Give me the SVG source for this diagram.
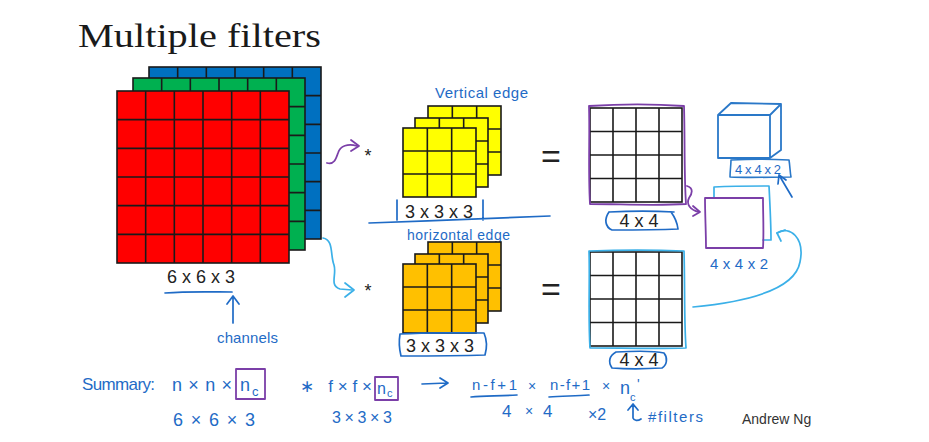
<svg xmlns="http://www.w3.org/2000/svg" xmlns:xlink="http://www.w3.org/1999/xlink" width="929" height="442" viewBox="0 0 929 442">
<style>
.grid{stroke:#1a1a1a;stroke-width:1.6}
.lbl{font-family:"Liberation Sans",Arial,sans-serif;font-size:18px;fill:#222}
.eq{font-family:"Liberation Sans",Arial,sans-serif;font-size:34px;fill:#222}
.hw{font-family:"Liberation Sans",Arial,sans-serif;fill:#1f6bc6}
.ink{fill:none;stroke:#1f6bc6;stroke-width:1.7;stroke-linecap:round;stroke-linejoin:round}
.lb{fill:none;stroke:#3bb0e8;stroke-width:1.7;stroke-linecap:round;stroke-linejoin:round}
.pu{fill:none;stroke:#7b3fa8;stroke-width:1.8;stroke-linecap:round;stroke-linejoin:round}
</style>
<defs>
<symbol id="g6" overflow="visible">
<rect class="grid" x="0" y="0" width="172" height="172"/>
<path class="grid" fill="none" d="M28.67,0V172M57.33,0V172M86,0V172M114.67,0V172M143.33,0V172M0,28.67H172M0,57.33H172M0,86H172M0,114.67H172M0,143.33H172"/>
</symbol>
<symbol id="g3" overflow="visible">
<rect class="grid" x="0" y="0" width="73" height="69"/>
<path class="grid" fill="none" d="M24.33,0V69M48.67,0V69M0,23H73M0,46H73"/>
</symbol>
<symbol id="g4" overflow="visible">
<rect class="grid" x="0" y="0" width="92" height="94" fill="none"/>
<path class="grid" fill="none" d="M23,0V94M46,0V94M69,0V94M0,23.5H92M0,47H92M0,70.5H92"/>
</symbol>
</defs>
<rect width="929" height="442" fill="#fff"/>
<text x="78" y="47" font-family="'Liberation Serif','Times New Roman',serif" font-size="34" fill="#1a1a1a" textLength="243" lengthAdjust="spacingAndGlyphs">Multiple filters</text>

<g id="input-volume">
<use xlink:href="#g6" x="149" y="67" fill="#0070c0"/>
<use xlink:href="#g6" x="133" y="78" fill="#00b050"/>
<use xlink:href="#g6" x="117" y="91" fill="#ff0000"/>
<text class="lbl" x="201" y="283" text-anchor="middle">6 x 6 x 3</text>
<path class="ink" d="M165,293 C190,291 215,292 232,292"/>
<text class="hw" x="217" y="343" font-size="15" textLength="61">channels</text>
</g>

<g id="filter-vertical">
<text class="hw" x="435" y="98" font-size="15" textLength="93">Vertical edge</text>
<text class="lbl" x="368" y="162" text-anchor="middle">*</text>
<use xlink:href="#g3" x="428" y="106" fill="#ffff00"/>
<use xlink:href="#g3" x="415" y="118" fill="#ffff00"/>
<use xlink:href="#g3" x="403" y="128" fill="#ffff00"/>
<text class="lbl" x="439" y="218" text-anchor="middle">3 x 3 x 3</text>
<path class="ink" d="M397,200 L397,220 M483,200 L483,220 M369,223 C430,221 500,218 550,216"/>
<text class="eq" x="551" y="168" text-anchor="middle">=</text>
</g>

<g id="filter-horizontal">
<text class="hw" x="407" y="240" font-size="14" textLength="103">horizontal edge</text>
<text class="lbl" x="368" y="297" text-anchor="middle">*</text>
<use xlink:href="#g3" x="428" y="242" fill="#ffc000"/>
<use xlink:href="#g3" x="415" y="254" fill="#ffc000"/>
<use xlink:href="#g3" x="403" y="264" fill="#ffc000"/>
<text class="lbl" x="440" y="352" text-anchor="middle">3 x 3 x 3</text>
<path class="ink" d="M400,334 C430,332 460,333 484,333 C487,340 487,348 485,355 C455,356 425,356 401,356 C399,348 399,340 400,334 Z"/>
<text class="eq" x="551" y="301" text-anchor="middle">=</text>
</g>

<g id="output-1">
<use xlink:href="#g4" x="590" y="108"/>
<path class="pu" d="M589,106 C620,104 655,104 684,106 C685,140 684,175 686,204 C655,206 620,204 590,204 C588,170 590,135 589,106 Z"/>
<text class="lbl" x="639" y="227" text-anchor="middle">4 x 4</text>
<path class="ink" d="M609,212 C630,211 655,211 674,212 M609,212 C604,219 605,227 612,230 C635,230 655,230 678,229 C677,221 674,216 671,212"/>
</g>

<g id="output-2">
<use xlink:href="#g4" x="590" y="252"/>
<path class="lb" d="M589,251 C620,250 655,250 684,251 C685,285 684,320 686,348 C655,349 620,348 590,348 C588,315 590,280 589,251 Z"/>
<text class="lbl" x="639" y="366" text-anchor="middle">4 x 4</text>
<path class="ink" d="M616,352 C635,351 655,351 664,353 C668,358 667,365 662,368 C645,369 625,369 612,368 C608,362 609,356 616,352 Z"/>
</g>

<g id="stacked-output">
<path class="lb" d="M714,198 L714,187 C735,186 755,186 769,186 C770,205 771,225 771,240 L763,240"/>
<path class="pu" d="M705,198 C725,198 745,198 763,198 C763,215 764,232 763,248 C745,248 725,248 706,248 C706,232 705,215 705,198 Z"/>
<text class="hw" x="710" y="269" font-size="15" textLength="58">4x4x2</text>
</g>

<g id="result-cube">
<path fill="none" stroke="#2a78c8" stroke-width="1.8" stroke-linejoin="round" d="M718,115 L770,115 L770,158 L718,158 Z M718,115 L731,103 L781,104 L770,115 M781,104 L781,150 L770,158"/>
<text class="hw" x="735" y="174" font-size="13" textLength="46">4x4x2</text>
<path fill="none" stroke="#2a78c8" stroke-width="1.6" stroke-linejoin="round" d="M731,160 C750,159 770,159 789,160 C790,166 790,172 791,177 C772,177 750,178 730,177 C730,171 731,165 731,160 Z"/>
</g>

<g id="connectors">
<path class="pu" d="M327,163 C334,165 336,159 338,153 C340,146 348,143 357,146"/>
<path class="pu" d="M351,140 L359,146 L351,151"/>
<path class="lb" d="M323,238 C334,240 330,255 334,265 C337,275 329,285 340,289 L352,290"/>
<path class="lb" d="M345,283 L354,290 L345,297"/>
<path class="pu" d="M687,186 C694,188 692,194 689,198 C686,204 690,210 699,212"/>
<path class="pu" d="M693,206 L700,212 L693,216"/>
<path class="lb" d="M693,307 C745,302 795,290 800,262 C805,238 790,225 777,233"/>
<path class="lb" d="M777,233 L781,241 M777,233 L785,230"/>
<path class="ink" d="M792,197 L779,175 M779,175 L778,184 M779,175 L786,180"/>
<path class="ink" d="M233,323 L233,297 M227,304 L233,296 L239,304"/>
</g>

<g id="summary">
<text class="hw" x="82" y="390" font-size="17" textLength="73">Summary:</text>
<text class="hw" x="172" y="391" font-size="18" textLength="60">n × n ×</text>
<path class="pu" d="M236,369 L265,369 L265,399 L236,399 Z"/>
<text class="hw" x="240" y="391" font-size="18">n</text>
<text class="hw" x="252" y="396" font-size="13">c</text>
<text class="hw" x="173" y="426" font-size="18" textLength="82">6 × 6 × 3</text>
<text class="hw" x="300" y="392" font-size="17" textLength="72">∗ f×f×</text>
<path class="pu" d="M375,377 L398,377 L398,400 L375,400 Z"/>
<text class="hw" x="377" y="394" font-size="16">n</text>
<text class="hw" x="387" y="397" font-size="11">c</text>
<text class="hw" x="332" y="423" font-size="16" textLength="60">3×3×3</text>
<path class="ink" d="M422,384 L447,383 M440,378 L448,383 L440,388"/>
<text class="hw" x="472" y="390" font-size="15" textLength="45">n-f+1</text>
<path class="ink" d="M471,397 C485,396 500,396 517,395"/>
<text class="hw" x="528" y="391" font-size="14">×</text>
<text class="hw" x="550" y="390" font-size="15" textLength="40">n-f+1</text>
<path class="ink" d="M549,397 C562,396 575,396 589,395"/>
<text class="hw" x="602" y="391" font-size="14">×</text>
<text class="hw" x="620" y="394" font-size="18">n</text>
<text class="hw" x="630" y="401" font-size="11">c</text>
<text class="hw" x="637" y="389" font-size="14">'</text>
<text class="hw" x="502" y="417" font-size="17">4</text>
<text class="hw" x="525" y="416" font-size="14">×</text>
<text class="hw" x="543" y="417" font-size="17">4</text>
<text class="hw" x="588" y="420" font-size="16">×2</text>
<path class="ink" d="M633,405 L633,418 C634,421 638,421 641,419 M628,410 L633,404 L638,410"/>
<text class="hw" x="648" y="422" font-size="15" textLength="55">#filters</text>
<text x="742" y="424" font-family="'Liberation Sans',Arial,sans-serif" font-size="14" fill="#333">Andrew Ng</text>
</g>
</svg>
